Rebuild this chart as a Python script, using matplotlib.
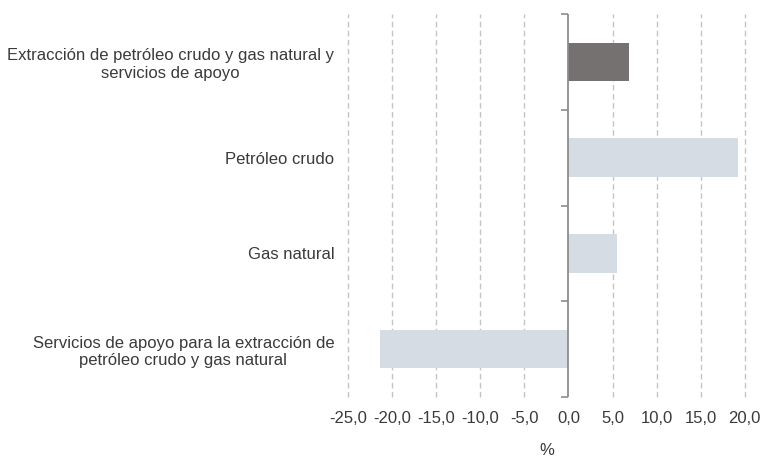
import matplotlib
matplotlib.use('Agg')
import matplotlib.pyplot as plt
import numpy as np
from matplotlib.lines import TICKLEFT

categories = [
    'Extracción de petróleo crudo y gas natural y\nservicios de apoyo',
    'Petróleo crudo',
    'Gas natural',
    'Servicios de apoyo para la extracción de\npetróleo crudo y gas natural',
]
values = [6.9, 19.2, 5.5, -21.4]
colors = ['#767171', '#d6dce4', '#d6dce4', '#d6dce4']
xticks = [-25, -20, -15, -10, -5, 0, 5, 10, 15, 20]

plt.rcParams['font.family'] = ['Liberation Sans', 'DejaVu Sans']
txt = '#3a3a3a'
fs = 12

fig = plt.figure(figsize=(7.6, 4.59), dpi=100)
ax = fig.add_axes([0.458, 0.135, 0.522, 0.8345])

y = np.arange(len(categories))
ax.barh(y, values, height=0.4, color=colors, zorder=3)
ax.set_ylim(len(categories) - 0.5, -0.5)
ax.set_xlim(-25, 20)

ax.set_xticks(xticks)
ax.set_xticklabels([f'{v:.1f}'.replace('.', ',') for v in xticks], fontsize=fs, color=txt)
ax.set_yticks(y)
ax.set_yticklabels(categories, fontsize=fs, color=txt)
for lab in ax.get_yticklabels():
    lab.set_multialignment('center')
ax.tick_params(axis='both', length=0)
ax.tick_params(axis='y', pad=10)
ax.tick_params(axis='x', pad=10)

for s in ax.spines.values():
    s.set_visible(False)

for v in xticks:
    if v != 0:
        ax.axvline(v, color='#c4c4c4', linestyle=(0, (4, 2.5)), linewidth=1,
                   zorder=1, clip_on=False)
ax.axvline(0, color='#8c8c8c', linewidth=1.3, zorder=4)

bounds = np.arange(len(categories) + 1) - 0.5
ax.plot(np.zeros_like(bounds), bounds, linestyle='none', marker=TICKLEFT,
        markersize=5, markeredgewidth=1.2, color='#8c8c8c', clip_on=False, zorder=4)

ax.set_xlabel('%', fontsize=fs, color=txt, labelpad=12)

fig.savefig('out.png', dpi=100)
